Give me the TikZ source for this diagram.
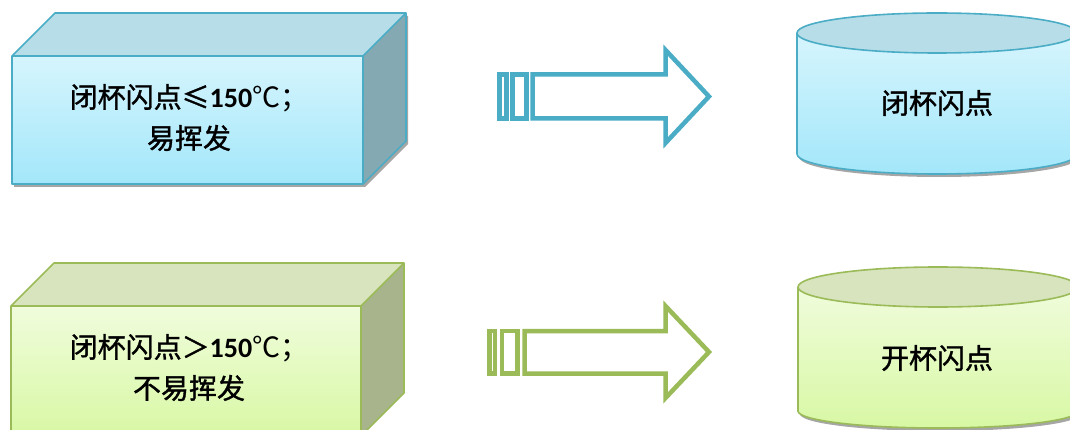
\documentclass[tikz,border=0pt]{standalone}
\usepackage{fontspec}
\newfontfamily\cjk{Noto Sans CJK SC}[FakeBold=1.3]
\newfontfamily\cjkr{Noto Sans CJK SC}
\newfontfamily\numf{Carlito}
\definecolor{bline}{HTML}{4BACC6}
\definecolor{btop}{HTML}{B7DEE8}
\definecolor{bside}{HTML}{84A9B3}
\definecolor{bfa}{HTML}{D6F5FD}
\definecolor{bfb}{HTML}{A3E7FA}
\definecolor{gline}{HTML}{9BBB59}
\definecolor{gtop}{HTML}{D7E4BD}
\definecolor{gside}{HTML}{A8B48C}
\definecolor{gfa}{HTML}{F0FCDC}
\definecolor{gfb}{HTML}{D8F8A4}
\tikzset{
  txt/.style={font=\cjk\fontsize{28}{41}\selectfont, align=center, inner sep=0pt},
  shadowfill/.style={fill=black!35, draw=none},
}
\begin{document}
\begin{tikzpicture}[x=1pt,y=-1pt]
\useasboundingbox (0,0) rectangle (1070,430);
\clip (0,0) rectangle (1070,430);

% ---------- top cube ----------
\fill[shadowfill] (14,59) -- (57,16) -- (408,16) -- (408,144) -- (365,187) -- (14,187) -- cycle;
\fill[btop] (12,56) -- (55,13) -- (406,13) -- (363,56) -- cycle;
\fill[bside] (363,56) -- (406,13) -- (406,141) -- (363,184) -- cycle;
\shade[top color=bfa, bottom color=bfb] (12,56) rectangle (363,184);
\draw[bline, line width=1.6pt, line join=round]
  (12,56) -- (55,13) -- (406,13) -- (406,141) -- (363,184) -- (12,184) -- cycle
  (12,56) -- (363,56) -- (406,13) (363,56) -- (363,184);
\node[txt] (t1) at (189,117.5) {闭杯闪点≤{\numf\bfseries 150}{\cjkr ℃；}\\易挥发};

% ---------- bottom cube ----------
\fill[gtop] (11,306) -- (54,263) -- (404,263) -- (361,306) -- cycle;
\fill[gside] (361,306) -- (404,263) -- (404,393) -- (361,436) -- cycle;
\shade[top color=gfa, bottom color=gfb] (11,306) rectangle (361,436);
\draw[gline, line width=1.6pt, line join=round]
  (11,440) -- (11,306) -- (54,263) -- (404,263) -- (404,393) -- (361,436) -- (361,440)
  (11,306) -- (361,306) -- (404,263) (361,306) -- (361,440);
\node[txt] (t2) at (189,367.5) {闭杯闪点＞{\numf\bfseries 150}{\cjkr ℃；}\\不易挥发};

% ---------- top arrow ----------
\draw[bline, line width=4.5pt] (499.5,74.5) rectangle (506.5,118.5);
\draw[bline, line width=4.5pt] (512.5,74.5) rectangle (526.5,118.5);
\draw[bline, line width=4.5pt, fill=white]
  (532.5,74.5) -- (665.5,74.5) -- (665.5,50) -- (709,96.5) -- (665.5,143) -- (665.5,118.5) -- (532.5,118.5) -- cycle;

% ---------- bottom arrow ----------
\draw[gline, line width=4.5pt] (489.5,331) rectangle (495,373.5);
\draw[gline, line width=4.5pt] (502,331) rectangle (517.5,373.5);
\draw[gline, line width=4.5pt, fill=white]
  (524.5,331) -- (665.5,331) -- (665.5,306) -- (709,352) -- (665.5,398) -- (665.5,373.5) -- (524.5,373.5) -- cycle;

% ---------- top cylinder ----------
\fill[shadowfill] (799,157) arc[start angle=180, end angle=0, x radius=140, y radius=20] -- (1079,140) -- (799,140) -- cycle;
\shade[top color=bfa, bottom color=bfb]
  (797,33) -- (797,154) arc[start angle=180, end angle=0, x radius=140, y radius=20] -- (1077,33) -- cycle;
\draw[bline, line width=1.6pt]
  (797,33) -- (797,154) arc[start angle=180, end angle=0, x radius=140, y radius=20] -- (1077,33);
\draw[bline, line width=1.6pt, fill=btop] (937,33) ellipse[x radius=140, y radius=20];
\node[txt] (c1) at (937,103) {闭杯闪点};

% ---------- bottom cylinder ----------
\fill[shadowfill] (800,414) arc[start angle=180, end angle=0, x radius=140, y radius=17] -- (1080,400) -- (800,400) -- cycle;
\shade[top color=gfa, bottom color=gfb]
  (798,287) -- (798,411) arc[start angle=180, end angle=0, x radius=140, y radius=17] -- (1078,287) -- cycle;
\draw[gline, line width=1.6pt]
  (798,287) -- (798,411) arc[start angle=180, end angle=0, x radius=140, y radius=17] -- (1078,287);
\draw[gline, line width=1.6pt, fill=gtop] (938,287) ellipse[x radius=140, y radius=20];
\node[txt] (c2) at (937,358) {开杯闪点};
\end{tikzpicture}
\end{document}
